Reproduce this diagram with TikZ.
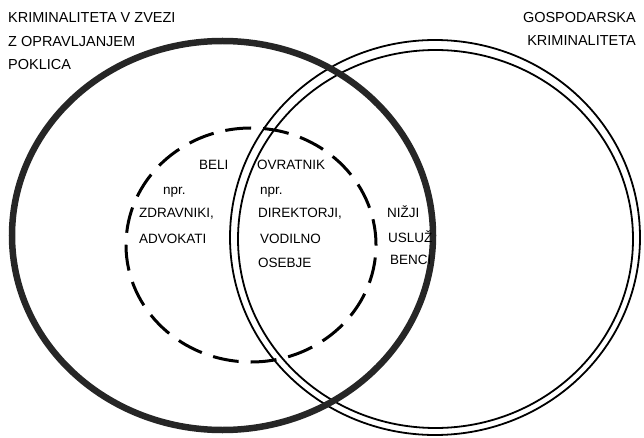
\documentclass[tikz,border=0pt]{standalone}
\usepackage{fontspec}
\setmainfont{Liberation Sans}
\begin{document}
\begin{tikzpicture}[x=1pt,y=-1pt,
  lbl/.style={inner sep=0pt,font=\fontsize{13.5}{16}\selectfont},
  biglbl/.style={inner sep=0pt,font=\fontsize{14.5}{17}\selectfont},
  thickring/.style={line width=6.5pt,draw=black!85},
  thinring/.style={line width=1.8pt,draw=black},
  dashring/.style={line width=3pt,draw=black,dash pattern=on 26pt off 12pt}]
\useasboundingbox (0,0) rectangle (644,438);
% right circle (double line)
\draw[thinring] (435,237.5) ellipse [x radius=205pt,y radius=197.5pt];
\draw[thinring] (435.5,239) ellipse [x radius=197.5pt,y radius=189pt];
% left circle (thick)
\draw[thickring] (222.5,235.5) ellipse [x radius=210.5pt,y radius=194.5pt];
% dashed circle
\draw[dashring] (251,245) ellipse [x radius=125pt,y radius=117pt];
% labels
\node[biglbl,anchor=base west] (l1) at (8,23) {KRIMINALITETA V ZVEZI};
\node[biglbl,anchor=base west] (l2) at (8,47) {Z OPRAVLJANJEM};
\node[biglbl,anchor=base west] (l3) at (8,70) {POKLICA};
\node[biglbl,anchor=base east] (r1) at (636,23) {GOSPODARSKA};
\node[biglbl,anchor=base east] (r2) at (636,46) {KRIMINALITETA};
\node[lbl,anchor=base west] (beli) at (199,170) {BELI};
\node[lbl,anchor=base west] (ovr) at (257,170) {OVRATNIK};
\node[lbl,anchor=base west] (npr1) at (163,195) {npr.};
\node[lbl,anchor=base west] (npr2) at (260,195) {npr.};
\node[lbl,anchor=base west] (zdr) at (139,218) {ZDRAVNIKI,};
\node[lbl,anchor=base west] (adv) at (139,243) {ADVOKATI};
\node[lbl,anchor=base west] (dir) at (258,218) {DIREKTORJI,};
\node[lbl,anchor=base west] (vod) at (260,243) {VODILNO};
\node[lbl,anchor=base west] (ose) at (258,267) {OSEBJE};
\node[lbl,anchor=base west] (niz) at (387,218) {NIŽJI};
\node[lbl,anchor=base west] (usl) at (388,242) {USLUŽ};
\node[lbl,anchor=base west] (ben) at (390,264) {BENCI};
\end{tikzpicture}
\end{document}
